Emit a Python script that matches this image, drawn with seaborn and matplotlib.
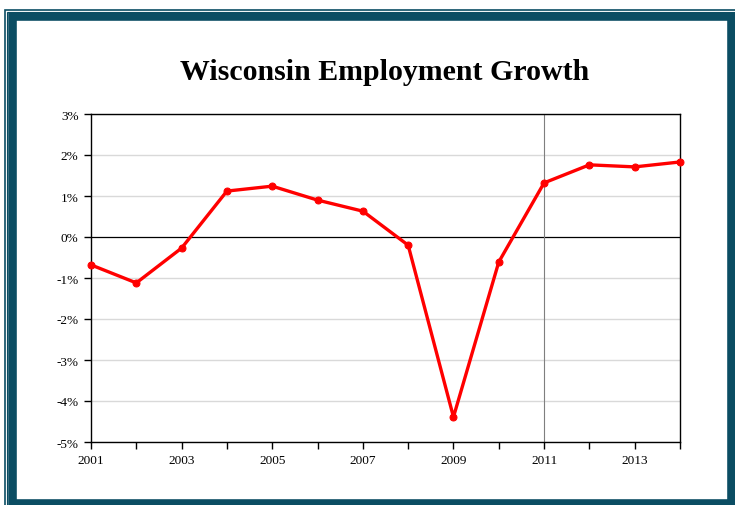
import numpy as np
import pandas as pd
import matplotlib
matplotlib.use("Agg")
import matplotlib.pyplot as plt
from matplotlib.patches import Rectangle
import seaborn as sns

# data (annual employment growth, %)
years = [2001, 2002, 2003, 2004, 2005, 2006, 2007, 2008, 2009, 2010, 2011, 2012, 2013, 2014]
growth = [-0.68, -1.12, -0.27, 1.12, 1.24, 0.90, 0.63, -0.20, -4.39, -0.61, 1.32, 1.76, 1.71, 1.83]
year_labels = ['2001', '2003', '2005', '2007', '2009', '2011', '2013']
y_ticks = [-5, -4, -3, -2, -1, 0, 1, 2, 3]

df = pd.DataFrame({'year': years, 'growth': growth})

sns.set_style("white")
plt.rcParams['font.family'] = ['Liberation Serif', 'DejaVu Serif']
plt.rcParams['text.color'] = 'black'
plt.rcParams['xtick.color'] = 'black'
plt.rcParams['ytick.color'] = 'black'

W, H = 735, 506
fig = plt.figure(figsize=(W / 100, H / 100), dpi=100)


def px(x, y):
    """pixel coords (top-left origin) -> figure fraction"""
    return x / W, 1 - y / H


# frame around the chart
border = '#0b4d63'
x0, y0 = px(4.5, 10.5)
fig.add_artist(Rectangle((x0, -0.1), 1.2, y0 + 0.1, transform=fig.transFigure,
                         fill=False, edgecolor=border, lw=1.2))
x0, y0 = px(7.5, 12.5)
fig.add_artist(Rectangle((x0, -0.1), 1.2, y0 + 0.1, transform=fig.transFigure,
                         fill=False, edgecolor=border, lw=0.8))
x0, y0 = px(12, 17)
x1, y1 = px(731, 504)
fig.add_artist(Rectangle((x0, y1), x1 - x0, y0 - y1, transform=fig.transFigure,
                         fill=False, edgecolor=border, lw=6.2))

# plot area
left, top = px(91, 115)
right, bottom = px(680, 443)
ax = fig.add_axes([left, bottom, right - left, top - bottom])

for v in y_ticks:
    if v == 0:
        ax.axhline(v, color='black', lw=0.9, zorder=1)
    else:
        ax.axhline(v, color='#d9d9d9', lw=1.0, zorder=1)
ax.axvline(2011, color='#7f7f7f', lw=0.8, zorder=1)

sns.lineplot(data=df, x='year', y='growth', ax=ax, color='#ff0000', lw=2.4,
             marker='o', markersize=5, markeredgecolor='#ff0000', zorder=3,
             clip_on=False)

ax.set_xlim(2001, 2014)
ax.set_ylim(-5, 3)
ax.set_xticks(years)
ax.set_xticklabels([str(y) if str(y) in year_labels else '' for y in years])
ax.set_yticks(y_ticks)
ax.set_yticklabels([f'{v}%' for v in y_ticks])
ax.set_xlabel('')
ax.set_ylabel('')
for s in ax.spines.values():
    s.set_visible(True)
    s.set_color('black')
    s.set_linewidth(1.0)
ax.tick_params(axis='both', direction='out', length=5, width=1, color='black',
               labelsize=9.5, labelcolor='black', pad=4, left=True, bottom=True)

tx, ty = px(385, 72)
fig.text(tx, ty, 'Wisconsin Employment Growth', ha='center', va='center',
         fontsize=21.5, fontweight='bold', color='black')

fig.savefig('out.png', dpi=100, facecolor='white')
